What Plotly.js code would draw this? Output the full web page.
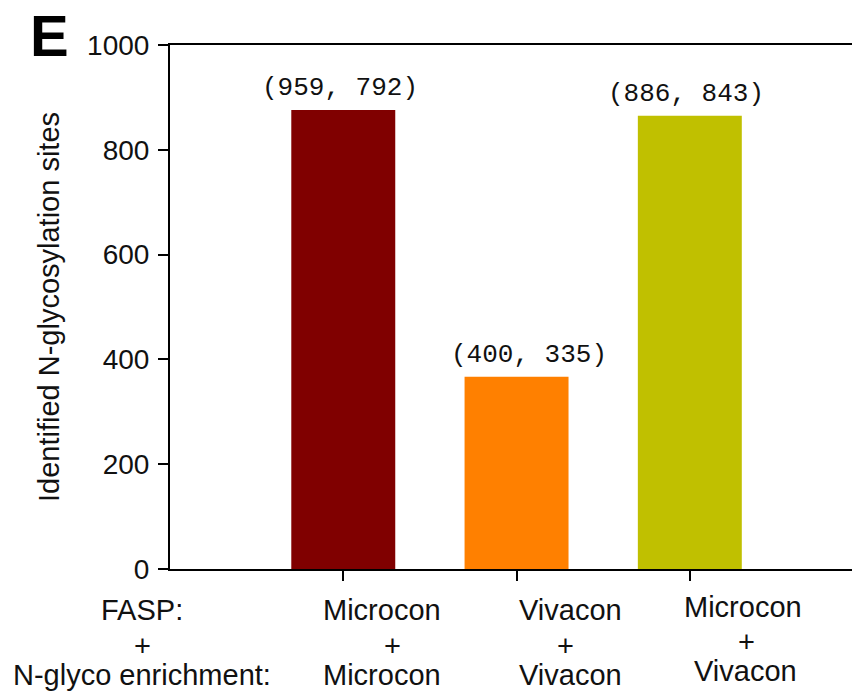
<!DOCTYPE html>
<html>
<head>
<meta charset="utf-8">
<script src="https://cdn.plot.ly/plotly-3.0.1.min.js"></script>
<style>
  html, body { margin: 0; padding: 0; background: #fff; }
  #chart { width: 852px; height: 691px; }
</style>
</head>
<body>
<div id="chart"></div>
<script>
// ---- data ----
const categories   = ['Microcon + Microcon', 'Vivacon + Vivacon', 'Microcon + Vivacon'];
const faspFilter   = ['Microcon', 'Vivacon', 'Microcon'];
const enrichFilter = ['Microcon', 'Vivacon', 'Vivacon'];
const sites        = [876, 367, 865];     // bar heights
const runA         = [959, 400, 886];     // first value in bracket
const runB         = [792, 335, 843];     // second value in bracket
const rowLabels    = ['FASP:', '+', 'N-glyco enrichment:'];
const barColors    = ['#800000', '#FF8000', '#C0C000'];
const yTicks       = [0, 200, 400, 600, 800, 1000];

// ---- style ----
const SANS = 'Liberation Sans, Arial, Helvetica, sans-serif';
const MONO = 'Liberation Mono, Courier New, monospace';
const txtColor = '#111';

const trace = {
  type: 'bar',
  x: categories,
  y: sites,
  width: 0.6,
  marker: { color: barColors, line: { width: 0 } },
  hoverinfo: 'x+y'
};

const annotations = [];

// value labels above bars
const labelXShift = [-3, 12, -4];
categories.forEach((c, i) => {
  annotations.push({
    xref: 'x', yref: 'y', x: c, y: sites[i],
    text: '(' + runA[i] + ', ' + runB[i] + ')',
    showarrow: false, xanchor: 'center', yanchor: 'middle',
    xshift: labelXShift[i], yshift: 22,
    font: { family: MONO, size: 26, color: txtColor }
  });
});

// category labels below axis (three lines each)
const colXShift = [[39, 49, 39], [54, 49, 54], [53, 57, 56]];
const rowYShift = [[-41, -77, -106], [-41, -77, -106], [-38, -73, -102]];
categories.forEach((c, i) => {
  const lines = [faspFilter[i], '+', enrichFilter[i]];
  lines.forEach((t, r) => {
    annotations.push({
      xref: 'x', yref: 'paper', x: c, y: 0,
      text: t, showarrow: false, xanchor: 'center', yanchor: 'middle',
      xshift: colXShift[i][r], yshift: rowYShift[i][r],
      font: { family: SANS, size: 29, color: txtColor }
    });
  });
});

// left row labels
rowLabels.forEach((t, r) => {
  annotations.push({
    xref: 'paper', yref: 'paper', x: 0, y: 0,
    text: t, showarrow: false, xanchor: 'center', yanchor: 'middle',
    xshift: -28, yshift: rowYShift[0][r],
    font: { family: SANS, size: 29, color: txtColor }
  });
});

// panel letter
annotations.push({
  xref: 'paper', yref: 'paper', x: 0, y: 1,
  text: '<b>E</b>', showarrow: false, xanchor: 'center', yanchor: 'top',
  xshift: -121, yshift: 44,
  font: { family: SANS, size: 58, color: '#000' }
});

const layout = {
  width: 852, height: 691,
  margin: { l: 170, r: 0, t: 45, b: 122, pad: 0 },
  paper_bgcolor: '#fff', plot_bgcolor: '#fff',
  showlegend: false,
  bargap: 0.4,
  xaxis: {
    type: 'category',
    range: [-1, 2.936],
    showline: true, linecolor: '#000', linewidth: 2, mirror: true,
    ticks: 'outside', ticklen: 10, tickwidth: 2, tickcolor: '#000',
    showticklabels: false, showgrid: false, zeroline: false,
    fixedrange: true
  },
  yaxis: {
    range: [0, 1000],
    tickvals: yTicks,
    ticktext: yTicks.map(String),
    showline: true, linecolor: '#000', linewidth: 2,
    ticks: 'outside', ticklen: 10, tickwidth: 2, tickcolor: '#000',
    ticklabelstandoff: 3,
    tickfont: { family: SANS, size: 28, color: txtColor },
    showgrid: false, zeroline: false,
    title: {
      text: 'Identified N-glycosylation sites',
      font: { family: SANS, size: 29, color: txtColor },
      standoff: 19
    },
    automargin: false,
    fixedrange: true
  },
  annotations: annotations
};

Plotly.newPlot('chart', [trace], layout, { displayModeBar: false, staticPlot: true });
</script>
</body>
</html>
